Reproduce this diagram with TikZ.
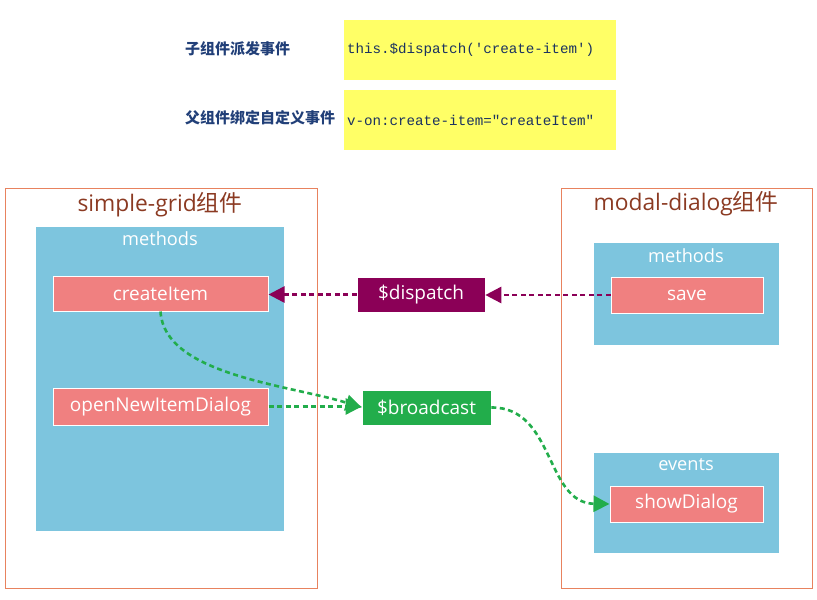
\documentclass[tikz,border=0pt]{standalone}
\usepackage{fontspec}
\setmainfont{Open Sans}
\newfontfamily\cjk{Noto Sans CJK SC}
\setmonofont{Liberation Mono}
\usepackage{tikz}
\usetikzlibrary{arrows.meta}

\definecolor{frameorange}{HTML}{E8825E}
\definecolor{groupblue}{HTML}{7DC5DE}
\definecolor{itemred}{HTML}{F08080}
\definecolor{dispatchpurple}{HTML}{8B0057}
\definecolor{broadcastgreen}{HTML}{22AD4B}
\definecolor{codeyellow}{HTML}{FFFF66}
\definecolor{notenavy}{HTML}{213F78}
\definecolor{titlebrown}{HTML}{8B3A22}

\begin{document}
\begin{tikzpicture}[
        x=1pt, y=-1pt,
        every node/.style = {inner sep=0pt},
        code/.style = {fill=codeyellow, minimum width=272pt, minimum height=60pt,
          text width=266pt, align=left, text=notenavy!80!black,
          font=\ttfamily\fontsize{14.2}{16}\selectfont},
        note/.style = {anchor=west, text=notenavy, font=\cjk\bfseries\fontsize{15}{18}\selectfont},
        component/.style = {draw=frameorange, line width=1pt},
        comptitle/.style = {text=titlebrown, font=\fontsize{22.8}{26}\selectfont},
        group/.style = {fill=groupblue},
        grouptitle/.style = {text=white, font=\fontsize{18.2}{20}\selectfont},
        item/.style = {fill=itemred, draw=white, line width=1pt, text=white,
          font=\fontsize{19}{21}\selectfont},
        bus/.style = {draw=white, line width=0.6pt, text=white, font=\fontsize{19}{21}\selectfont},
        dispatchline/.style = {draw=dispatchpurple, line width=2.6pt, dash pattern=on 5pt off 3.5pt,
          -{Triangle[length=16pt,width=16pt]}},
        broadcastline/.style = {draw=broadcastgreen, line width=2.6pt, dash pattern=on 5pt off 3.5pt,
          -{Triangle[length=16pt,width=16pt]}},
      ]
      \useasboundingbox (0,0) rectangle (817,600);

      \node[note] (dispatchnote) at (185,49) {子组件派发事件};
      \node[code] (dispatchcode) at (480,50) {this.\$dispatch('create-item')};
      \node[note] (bindnote) at (185,118) {父组件绑定自定义事件};
      \node[code] (bindcode) at (480,120) {v-on:create-item="createItem"};

      \node[component, minimum width=312pt, minimum height=400pt] (grid) at (161,388) {};
      \node[comptitle] (gridtitle) at (160,205) {simple-grid{\cjk 组件}};
      \node[group, minimum width=248pt, minimum height=304pt] (gridmethods) at (160,379) {};
      \node[grouptitle] (gridmethodstitle) at (160,239) {methods};
      \node[item, minimum width=215pt, minimum height=35pt] (createitem) at (160.5,293.5) {createItem};
      \node[item, minimum width=215pt, minimum height=37pt] (opendialog) at (160.5,406.5) {openNewItemDialog};

      \node[component, minimum width=251pt, minimum height=400pt] (modal) at (686.5,388) {};
      \node[comptitle] (modaltitle) at (686,204) {modal-dialog{\cjk 组件}};
      \node[group, minimum width=185pt, minimum height=102pt] (modalmethods) at (686.5,294) {};
      \node[grouptitle] (modalmethodstitle) at (686,256) {methods};
      \node[item, minimum width=152pt, minimum height=36pt] (save) at (687,295) {save};
      \node[group, minimum width=185pt, minimum height=100pt] (modalevents) at (686.5,503) {};
      \node[grouptitle] (modaleventstitle) at (686,465) {events};
      \node[item, minimum width=153pt, minimum height=36pt] (showdialog) at (686.5,504) {showDialog};

      \node[bus, fill=dispatchpurple, minimum width=128pt, minimum height=35pt] (dispatch) at (421,294.5) {\$dispatch};
      \node[bus, fill=broadcastgreen, minimum width=129pt, minimum height=35pt] (broadcast) at (426.5,407.5) {\$broadcast};

      \draw[dispatchline] (save.west) -- (dispatch.east |- save.west);
      \draw[dispatchline] (dispatch.west) -- (createitem.east |- dispatch.west);
      \draw[broadcastline] (opendialog.east) -- (broadcast.west |- opendialog.east);
      \draw[broadcastline] (createitem.south) .. controls (164,375) and (290,385) .. (broadcast.west);
      \draw[broadcastline] (broadcast.east) .. controls (555,407) and (545,503) .. (showdialog.west);

    \end{tikzpicture}
\end{document}
